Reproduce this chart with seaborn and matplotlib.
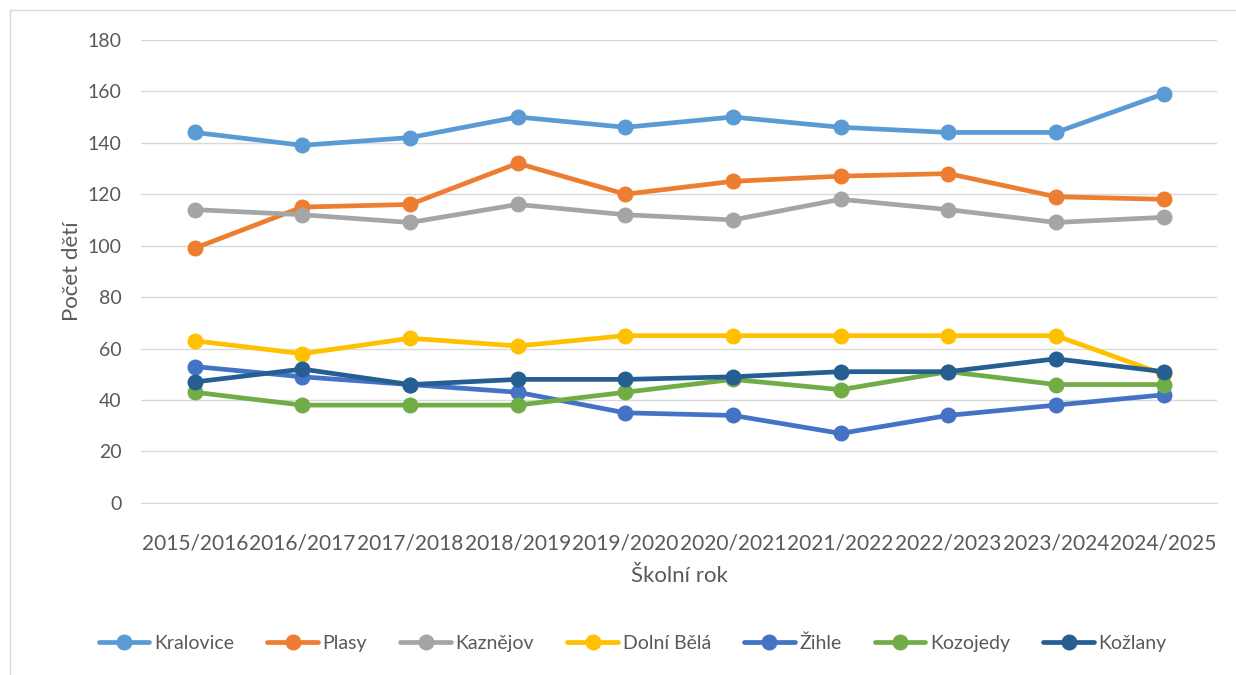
import matplotlib
matplotlib.use('Agg')
import matplotlib.pyplot as plt
import seaborn as sns
import pandas as pd

years = ['2015/2016', '2016/2017', '2017/2018', '2018/2019', '2019/2020',
         '2020/2021', '2021/2022', '2022/2023', '2023/2024', '2024/2025']
kralovice = [144, 139, 142, 150, 146, 150, 146, 144, 144, 159]
plasy = [99, 115, 116, 132, 120, 125, 127, 128, 119, 118]
kaznejov = [114, 112, 109, 116, 112, 110, 118, 114, 109, 111]
dolni_bela = [63, 58, 64, 61, 65, 65, 65, 65, 65, 50]
zihle = [53, 49, 46, 43, 35, 34, 27, 34, 38, 42]
kozojedy = [43, 38, 38, 38, 43, 48, 44, 51, 46, 46]
kozlany = [47, 52, 46, 48, 48, 49, 51, 51, 56, 51]

names = ['Kralovice', 'Plasy', 'Kaznějov', 'Dolní Bělá', 'Žihle', 'Kozojedy', 'Kožlany']
series = [kralovice, plasy, kaznejov, dolni_bela, zihle, kozojedy, kozlany]
colors = ['#5B9BD5', '#ED7D31', '#A5A5A5', '#FFC000', '#4472C4', '#70AD47', '#255E91']

rows = []
for name, vals in zip(names, series):
    for i, v in enumerate(vals):
        rows.append({'rok': i, 'obec': name, 'pocet': v})
df = pd.DataFrame(rows)

sns.set_style('white')
plt.rcParams['font.family'] = ['Lato', 'DejaVu Sans']

fig = plt.figure(figsize=(12.36, 6.75), dpi=100)
ax = fig.add_axes([0.114, 0.255, 0.871, 0.686])

sns.lineplot(data=df, x='rok', y='pocet', hue='obec', hue_order=names,
             palette=colors, marker='o', markersize=11.5, markeredgewidth=0,
             linewidth=3.4, ax=ax, legend=True)

ax.set_xlim(-0.5, 9.5)
ax.set_ylim(0, 180)
ax.set_yticks(range(0, 181, 20))
ax.set_xticks(range(10))
ax.set_xticklabels(years)
ax.tick_params(axis='y', length=0, labelsize=14, colors='#595959', pad=14)
ax.tick_params(axis='x', length=0, labelsize=15, colors='#595959', pad=22)
ax.grid(axis='y', color='#D9D9D9', linewidth=1)
ax.set_axisbelow(True)
for s in ['top', 'right', 'left']:
    ax.spines[s].set_visible(False)
ax.spines['bottom'].set_color('#D9D9D9')

ax.set_xlabel('Školní rok', fontsize=16, color='#595959', labelpad=9)
ax.set_ylabel('Počet dětí', fontsize=16, color='#595959', labelpad=4)

handles, labels = ax.get_legend_handles_labels()
ax.legend(handles, labels, loc='center', bbox_to_anchor=(0.512, 0.047),
          bbox_transform=fig.transFigure, ncol=7, frameon=False,
          fontsize=14, handlelength=2.6, columnspacing=1.7, handletextpad=0.25,
          labelcolor='#595959')

# chart border like the source
fig.add_artist(plt.Line2D([10 / 1236, 10 / 1236], [0, 1 - 10 / 675],
                          transform=fig.transFigure, color='#D9D9D9', linewidth=1))
fig.add_artist(plt.Line2D([10 / 1236, 1], [1 - 10 / 675, 1 - 10 / 675],
                          transform=fig.transFigure, color='#D9D9D9', linewidth=1))

fig.savefig('out.png', dpi=100)
